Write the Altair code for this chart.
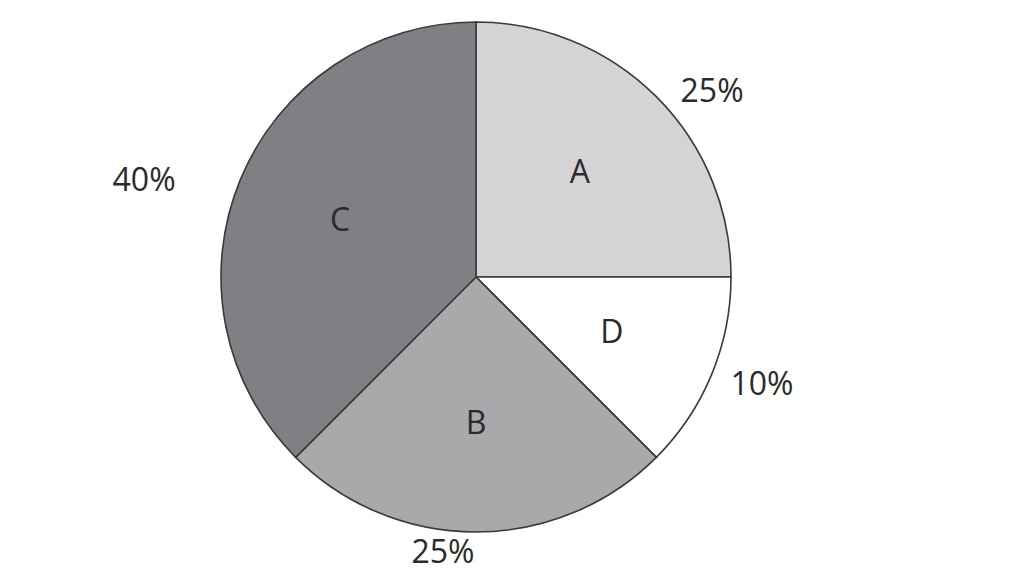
import altair as alt
import pandas as pd

# Slices in clockwise order from 12 o'clock
categories = ["A", "D", "B", "C"]
slice_share = [25, 12.5, 25, 37.5]          # share as drawn in the picture
pct_labels = ["25%", "10%", "25%", "40%"]   # printed percentage labels
fills = ["#d4d4d6", "#ffffff", "#a9a9ab", "#7f8083"]

df = pd.DataFrame({
    "cat": categories,
    "share": slice_share,
    "pct": pct_labels,
    "order": list(range(len(categories))),
})

R = 255
color = alt.Color("cat:N", scale=alt.Scale(domain=categories, range=fills), legend=None)
theta = alt.Theta("share:Q", stack=True)
order = alt.Order("order:Q")

base = alt.Chart(df)

pie = base.mark_arc(outerRadius=R, stroke="#3a3a3a", strokeWidth=1.6).encode(
    theta=theta, color=color, order=order
)

inner = base.mark_text(radius=147, font="Open Sans", fontSize=32, color="#2b2b2b").encode(
    theta=theta, order=order, text="cat:N"
)

# small positional nudges for the outside percentage labels (style only)
nudges = {"A": (31, 20), "D": (18, -3), "B": (-33, -14), "C": (-64, 15)}
outer_layers = []
for c in categories:
    dx, dy = nudges[c]
    outer_layers.append(
        base.mark_text(radius=290, font="Open Sans", fontSize=32, color="#2b2b2b",
                       dx=dx, dy=dy)
        .encode(theta=theta, order=order,
                text=alt.condition(alt.datum.cat == c, "pct:N", alt.value("")))
    )

chart = alt.layer(pie, inner, *outer_layers).properties(
    width=936, height=538,
    autosize=alt.AutoSizeParams(type="none"),
    padding={"left": 0, "top": 0, "right": 0, "bottom": 40},
).configure_view(stroke=None)

chart.save("out.html", embed_options={"renderer": "svg", "actions": False})
